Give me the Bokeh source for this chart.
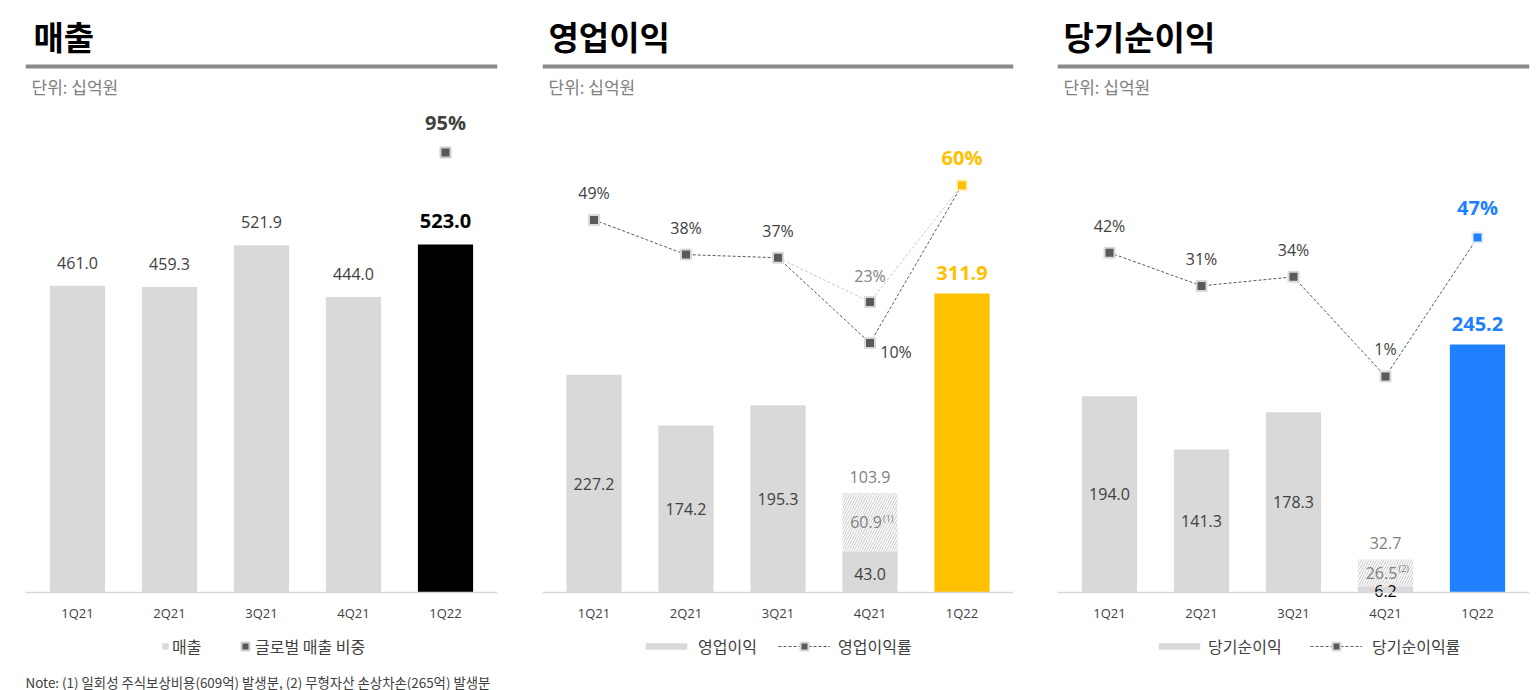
from bokeh.plotting import figure
from bokeh.models import (ColumnDataSource, FactorRange, Range1d, Label,
                          BoxAnnotation, Legend, LegendItem)
from bokeh.core.properties import value
from bokeh.layouts import row
from bokeh.embed import file_html
from bokeh.resources import INLINE

# ---- data (KRW bn) ----
quarters = ["1Q21", "2Q21", "3Q21", "4Q21", "1Q22"]

revenue = [461.0, 459.3, 521.9, 444.0, 523.0]
global_share_1q22 = [95]

op_income = [227.2, 174.2, 195.3, 43.0, 311.9]
op_oneoff_4q21 = [60.9]          # one-off stock compensation
op_adjusted_4q21 = [103.9]
op_margin = [49, 38, 37, 10, 60]
op_margin_adjusted = [37, 23, 60]  # 3Q21, 4Q21 (adjusted), 1Q22

net_income = [194.0, 141.3, 178.3, 6.2, 245.2]
net_oneoff_4q21 = [26.5]         # intangible asset impairment
net_adjusted_4q21 = [32.7]
net_margin = [42, 31, 34, 1, 47]

# ---- style ----
KR = "Noto Sans CJK KR"
NUM = "Open Sans"
DARK = "#404040"
MID = "#808080"
BAR_GRAY = "#d9d9d9"
MARK = "#595959"
ORANGE = "#ffc000"
BLUE = "#1f80ff"

H = 690
SLOT = 92          # px per quarter
BASE_PX = 98       # distance of the zero line from the bottom edge


def base_panel(title, width, frame_left, frame_w, y_range, pct_range, title_x=6):
    p = figure(width=width, height=H, title=None,
               x_range=FactorRange(*quarters,
                                   range_padding=(frame_w - 5 * SLOT) / (5 * SLOT)),
               y_range=Range1d(*y_range),
               output_backend="svg", toolbar_location=None,
               y_axis_location=None,
               min_border_left=frame_left,
               min_border_right=width - frame_left - frame_w,
               min_border_top=0, min_border_bottom=0)
    p.extra_y_ranges = {"pct": Range1d(*pct_range)}
    p.outline_line_color = None
    p.grid.visible = False
    p.background_fill_color = "white"
    p.border_fill_color = "white"

    ax = p.xaxis[0]
    ax.fixed_location = 0
    ax.axis_line_color = BAR_GRAY
    ax.axis_line_width = 1.5
    ax.major_tick_line_color = None
    ax.minor_tick_line_color = None
    ax.major_tick_out = 0
    ax.major_tick_in = 0
    ax.major_label_text_font = NUM
    ax.major_label_text_font_size = "13px"
    ax.major_label_text_color = DARK
    ax.major_label_standoff = 11

    # heading, rule and unit note
    p.add_layout(Label(x=title_x, y=H - 35, x_units="screen", y_units="screen",
                       text=title, text_font=KR, text_font_size="33px",
                       text_font_style="bold", text_color="black",
                       text_baseline="middle"))
    p.add_layout(BoxAnnotation(left=frame_left, right=frame_left + frame_w,
                               top=64, bottom=68,
                               left_units="canvas", right_units="canvas",
                               top_units="canvas", bottom_units="canvas",
                               fill_color="#8a8a8a", fill_alpha=1,
                               line_color=None))
    p.add_layout(Label(x=6, y=H - 86, x_units="screen", y_units="screen",
                       text="단위: 십억원", text_font=KR, text_font_size="17px",
                       text_color=MID, text_baseline="middle"))
    return p


def legend(items, x, gw, gh, standoff):
    return Legend(items=items, location=(x, 32), orientation="horizontal",
                  glyph_width=gw, glyph_height=gh, label_standoff=standoff,
                  padding=0, margin=0, spacing=0,
                  border_line_color=None, background_fill_alpha=0,
                  label_text_font=KR, label_text_font_size="16px",
                  label_text_color=DARK, label_height=gh)


def fmt(vals):
    return [f"{v:.1f}" for v in vals]


def pct(vals):
    return [f"{v:.0f}%" for v in vals]


def vrange(top_val, top_px):
    """Value range for the full canvas height given a bar value and its pixel height."""
    k = top_val / top_px
    return (-BASE_PX * k, (H - BASE_PX) * k)


# ================= 매출 =================
p1 = base_panel("매출", 512, 25, 472, vrange(523.0, 348), (-21.16, 127.82), title_x=8)

s_gray = ColumnDataSource(dict(q=quarters[:4], v=revenue[:4], t=fmt(revenue[:4])))
s_last = ColumnDataSource(dict(q=quarters[4:], v=revenue[4:], t=fmt(revenue[4:])))
r_rev = p1.vbar(x="q", top="v", width=0.6, source=s_gray, fill_color=BAR_GRAY, line_color=None)
p1.vbar(x="q", top="v", width=0.6, source=s_last, fill_color="black", line_color=None)
p1.text(x="q", y="v", text="t", source=s_gray, y_offset=-23,
        text_font=value(NUM), text_font_size="16px", text_color=DARK,
        text_align="center", text_baseline="middle")
p1.text(x="q", y="v", text="t", source=s_last, y_offset=-24,
        text_font=value(NUM), text_font_size="20px", text_font_style="bold",
        text_color="black", text_align="center", text_baseline="middle")

s_share = ColumnDataSource(dict(q=quarters[4:], v=global_share_1q22, t=pct(global_share_1q22)))
r_share = p1.scatter(x="q", y="v", source=s_share, y_range_name="pct", marker="square",
                     size=10, fill_color=MARK, line_color="#cfcfcf", line_width=2)
p1.text(x="q", y="v", text="t", source=s_share, y_range_name="pct", y_offset=-30,
        text_font=value(NUM), text_font_size="20px", text_font_style="bold",
        text_color=DARK, text_align="center", text_baseline="middle")

p1.add_layout(legend([LegendItem(label="매출", renderers=[r_rev])], 136, 8, 8, 3))
p1.add_layout(legend([LegendItem(label="글로벌 매출 비중", renderers=[r_share])], 210, 20, 20, 0))
p1.add_layout(Label(x=0, y=H - 681, x_units="screen", y_units="screen",
                    text="Note: (1) 일회성 주식보상비용(609억) 발생분, (2) 무형자산 손상차손(265억) 발생분",
                    text_font=KR, text_font_size="13.4px", text_color=DARK,
                    text_baseline="middle"))


def profit_panel(title, width, frame_left, frame_w, y_range, pct_range,
                 values, oneoff, adjusted, margin, margin_adj, color,
                 note_mark, low_color):
    p = base_panel(title, width, frame_left, frame_w, y_range, pct_range)

    s_gray = ColumnDataSource(dict(q=quarters[:4], v=values[:4]))
    s_last = ColumnDataSource(dict(q=quarters[4:], v=values[4:], t=fmt(values[4:])))
    r_bar = p.vbar(x="q", top="v", width=0.6, source=s_gray, fill_color=BAR_GRAY, line_color=None)
    p.vbar(x="q", top="v", width=0.6, source=s_last, fill_color=color, line_color=None)

    # one-off portion stacked on 4Q21
    base4 = values[3]
    s_hatch = ColumnDataSource(dict(q=[quarters[3]], b=[base4], v=adjusted,
                                    m=[base4 + oneoff[0] / 2], t=fmt(oneoff),
                                    ta=fmt(adjusted), n=[note_mark]))
    p.vbar(x="q", bottom="b", top="v", width=0.6, source=s_hatch, fill_color="white",
           line_color=None, hatch_pattern="right_diagonal_line", hatch_color="#c8c8c8",
           hatch_scale=5, hatch_weight=1)

    # labels inside bars
    s_in = ColumnDataSource(dict(q=quarters[:3], m=[v / 2 for v in values[:3]], t=fmt(values[:3])))
    p.text(x="q", y="m", text="t", source=s_in, text_font=value(NUM), text_font_size="16px",
           text_color=DARK, text_align="center", text_baseline="middle")
    s_low = ColumnDataSource(dict(q=[quarters[3]], m=[base4 / 2], t=fmt([base4])))
    p.text(x="q", y="m", text="t", source=s_low, text_font=value(NUM), text_font_size="16px",
           text_color=low_color, text_align="center", text_baseline="middle", y_offset=2)
    p.text(x="q", y="m", text="t", source=s_hatch, x_offset=-4, text_font=value(NUM),
           text_font_size="16px", text_color=MID, text_align="center", text_baseline="middle")
    p.text(x="q", y="m", text="n", source=s_hatch, x_offset=13, y_offset=-4,
           text_font=value(NUM), text_font_size="9px", text_color=MID,
           text_align="left", text_baseline="middle")
    p.text(x="q", y="v", text="ta", source=s_hatch, y_offset=-16, text_font=value(NUM),
           text_font_size="16px", text_color=MID, text_align="center", text_baseline="middle")
    p.text(x="q", y="v", text="t", source=s_last, y_offset=-21, text_font=value(NUM),
           text_font_size="20px", text_font_style="bold", text_color=color,
           text_align="center", text_baseline="middle")

    # margin lines
    if margin_adj is not None:
        s_adj = ColumnDataSource(dict(q=quarters[2:], v=margin_adj))
        p.line(x="q", y="v", source=s_adj, y_range_name="pct", line_color="#c8c8c8",
               line_dash="3 2", line_width=1)
    s_m = ColumnDataSource(dict(q=quarters, v=margin))
    r_line = p.line(x="q", y="v", source=s_m, y_range_name="pct", line_color=MARK,
                    line_dash="3 2", line_width=1)
    if margin_adj is not None:
        s_am = ColumnDataSource(dict(q=[quarters[3]], v=[margin_adj[1]], t=pct([margin_adj[1]])))
        p.scatter(x="q", y="v", source=s_am, y_range_name="pct", marker="square", size=10,
                  fill_color=MARK, line_color="#d9d9d9", line_width=2)
        p.text(x="q", y="v", text="t", source=s_am, y_range_name="pct", y_offset=-26,
               text_font=value(NUM), text_font_size="16px", text_color=MID,
               text_align="center", text_baseline="middle")
    s_mk = ColumnDataSource(dict(q=quarters[:4], v=margin[:4], t=pct(margin[:4])))
    r_mk = p.scatter(x="q", y="v", source=s_mk, y_range_name="pct", marker="square", size=10,
                     fill_color=MARK, line_color="#d9d9d9", line_width=2)
    s_ml = ColumnDataSource(dict(q=quarters[4:], v=margin[4:], t=pct(margin[4:])))
    p.scatter(x="q", y="v", source=s_ml, y_range_name="pct", marker="square", size=10,
              fill_color=color, line_color="#e6eef8" if color == BLUE else "#fff0c0", line_width=2)
    return p, r_bar, r_line, r_mk, s_mk, s_ml


# ================= 영업이익 =================
p2, rb2, rl2, rm2, sm2, sl2 = profit_panel(
    "영업이익", 512, 30, 471, vrange(311.9, 299), (-100.16, 118.54),
    op_income, op_oneoff_4q21, op_adjusted_4q21, op_margin, op_margin_adjusted,
    ORANGE, "(1)", DARK)
# margin labels: three above, 4Q21 beside the marker
s_lab2 = ColumnDataSource(dict(q=sm2.data["q"], v=sm2.data["v"], t=sm2.data["t"],
                               dx=[0, 0, 0, 26], dy=[-27, -27, -27, 9]))
p2.text(x="q", y="v", text="t", source=s_lab2, y_range_name="pct",
        x_offset="dx", y_offset="dy", text_font=value(NUM), text_font_size="16px",
        text_color=DARK, text_align="center", text_baseline="middle")
p2.text(x="q", y="v", text="t", source=sl2, y_range_name="pct", y_offset=-28,
        text_font=value(NUM), text_font_size="20px", text_font_style="bold",
        text_color=ORANGE, text_align="center", text_baseline="middle")
p2.add_layout(legend([LegendItem(label="영업이익", renderers=[rb2])], 98, 52, 8, 6))
p2.add_layout(legend([LegendItem(label="영업이익률", renderers=[rl2, rm2])], 236, 52, 20, 8))

# ================= 당기순이익 =================
p3, rb3, rl3, rm3, sm3, sl3 = profit_panel(
    "당기순이익", 513, 33, 472, vrange(245.2, 248), (-102.98, 125.5),
    net_income, net_oneoff_4q21, net_adjusted_4q21, net_margin, None,
    BLUE, "(2)", "black")
p3.text(x="q", y="v", text="t", source=sm3, y_range_name="pct", y_offset=-27,
        text_font=value(NUM), text_font_size="16px", text_color=DARK,
        text_align="center", text_baseline="middle")
p3.text(x="q", y="v", text="t", source=sl3, y_range_name="pct", y_offset=-30,
        text_font=value(NUM), text_font_size="20px", text_font_style="bold",
        text_color=BLUE, text_align="center", text_baseline="middle")
p3.add_layout(legend([LegendItem(label="당기순이익", renderers=[rb3])], 96, 52, 8, 3))
p3.add_layout(legend([LegendItem(label="당기순이익률", renderers=[rl3, rm3])], 253, 52, 20, 10))

layout = row(p1, p2, p3)
open("out.html", "w").write(file_html(layout, INLINE))
